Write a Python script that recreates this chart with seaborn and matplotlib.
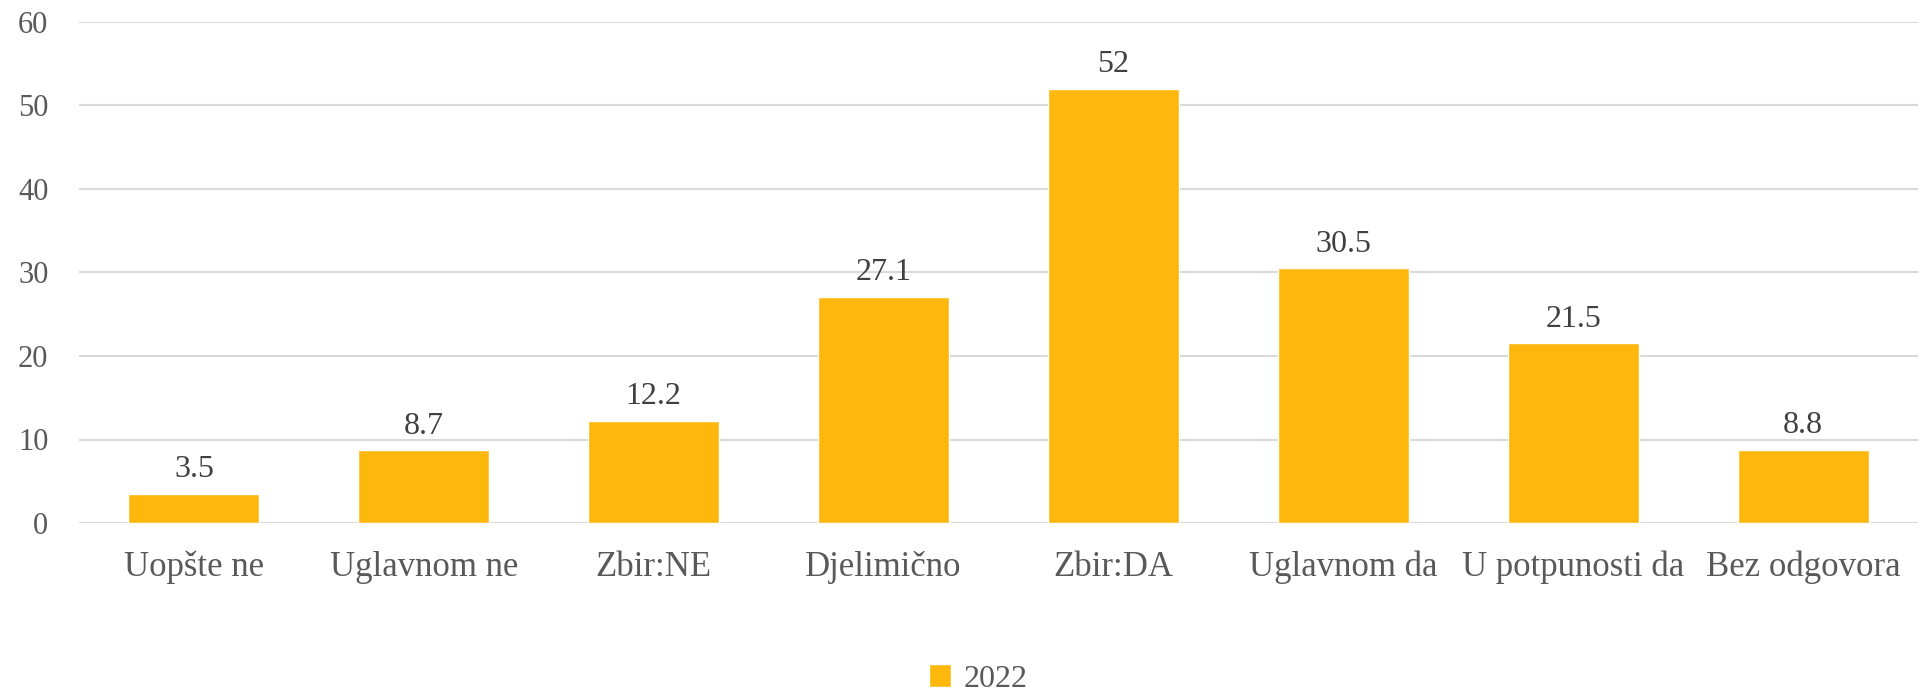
import matplotlib
matplotlib.use("Agg")
import matplotlib.pyplot as plt
import seaborn as sns
import pandas as pd

categories = ["Uopšte ne", "Uglavnom ne", "Zbir:NE", "Djelimično", "Zbir:DA",
              "Uglavnom da", "U potpunosti da", "Bez odgovora"]
values = [3.5, 8.7, 12.2, 27.1, 52, 30.5, 21.5, 8.8]
value_labels = ["3.5", "8.7", "12.2", "27.1", "52", "30.5", "21.5", "8.8"]
series_name = "2022"
y_ticks = [0, 10, 20, 30, 40, 50, 60]

df = pd.DataFrame({"category": categories, "value": values, "series": series_name})

sns.set_theme(style="white")
plt.rcParams["font.family"] = ["Liberation Serif", "DejaVu Serif"]

bar_color = "#FDB70D"
fig = plt.figure(figsize=(19.21, 6.99), dpi=100)
ax = fig.add_axes([79 / 1921, 1 - 523 / 699, (1918 - 79) / 1921, (523 - 22) / 699])

sns.barplot(data=df, x="category", y="value", hue="series", palette=[bar_color],
            saturation=1, width=0.57, ax=ax, legend=True, zorder=3)

ax.set_ylim(0, 60)
ax.set_yticks(y_ticks)
ax.set_xlim(-0.5, len(categories) - 0.5)
ax.grid(axis="y", color="#D9D9D9", linewidth=1.5, zorder=0)
for s in ax.spines.values():
    s.set_visible(False)

ax.tick_params(axis="y", length=0, pad=22, labelsize=22, labelcolor="#595959")
ax.tick_params(axis="x", length=0, pad=20, labelsize=25, labelcolor="#595959")
ax.set_xlabel("")
ax.set_ylabel("")

for i, (v, lab) in enumerate(zip(values, value_labels)):
    ax.annotate(lab, (i, v), xytext=(0, 7), textcoords="offset points",
                ha="center", va="bottom", fontsize=23, color="#404040")

leg = ax.legend(loc="lower center", bbox_to_anchor=(0.5 - 20 / 1839, -0.385),
                frameon=False, fontsize=23, handlelength=0.7, handleheight=0.7,
                handletextpad=0.4, borderpad=0.2, labelcolor="#595959")

fig.savefig("out.png", dpi=100)
